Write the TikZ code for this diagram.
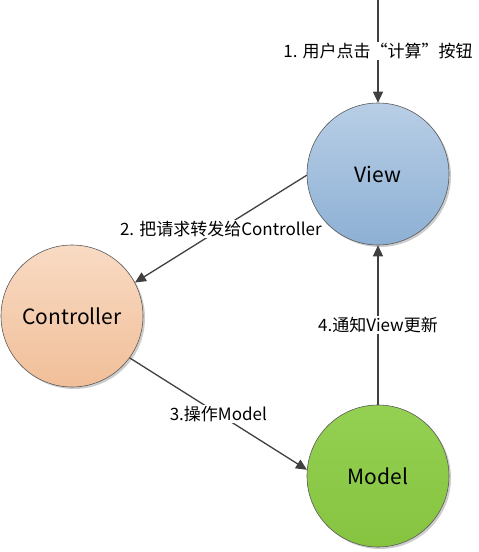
\documentclass[tikz,border=0pt]{standalone}
\usepackage{fontspec}
\setmainfont{Noto Sans CJK SC}
\usetikzlibrary{arrows.meta,shadows}
\definecolor{viewtop}{HTML}{B8CEE6}
\definecolor{viewbot}{HTML}{8DB0D4}
\definecolor{ctrltop}{HTML}{F8DAC3}
\definecolor{ctrlbot}{HTML}{F1BF99}
\definecolor{modtop}{HTML}{94D052}
\definecolor{modbot}{HTML}{86C440}
\definecolor{linec}{HTML}{404040}
\begin{document}
\begin{tikzpicture}[x=1pt,y=-1pt,
  circ/.style={circle, minimum size=142pt, inner sep=0pt, draw=black!65, line width=0.6pt,
    font=\fontsize{21}{25}\selectfont,
    drop shadow={shadow xshift=2pt,shadow yshift=-2pt,opacity=0.2,fill=black}},
  conn/.style={draw=linec, line width=1.3pt, -{Triangle[length=11pt,width=10pt]}},
  lbl/.style={fill=white, inner sep=1pt, font=\fontsize{17}{20}\selectfont}]
\useasboundingbox (0,0) rectangle (479,552);
\node[circ, top color=viewtop, bottom color=viewbot] (view) at (378,174) {View};
\node[circ, top color=ctrltop, bottom color=ctrlbot] (ctrl) at (72,316) {Controller};
\node[circ, top color=modtop, bottom color=modbot] (model) at (378,476) {Model};
\coordinate (start) at (378,0);
\draw[conn] (start) -- node[lbl] {1. 用户点击“计算”按钮} (view.north);
\draw[conn] (view.181) -- node[lbl] {2. 把请求转发给Controller} (ctrl.28);
\draw[conn] (ctrl.-36) -- node[lbl] {3.操作Model} (model.175);
\draw[conn] (model.north) -- node[lbl] {4.通知View更新} (view.south);
\end{tikzpicture}
\end{document}
